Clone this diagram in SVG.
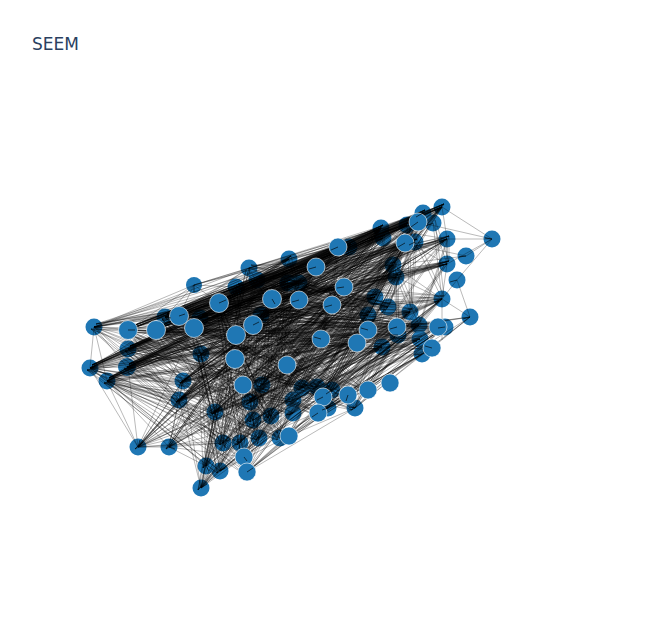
<svg xmlns="http://www.w3.org/2000/svg" width="650" height="625" viewBox="0 0 650 625">
<style>
text{font-family:"DejaVu Sans","Noto Sans",sans-serif;font-size:17px;fill:#2a3f5f}
circle{fill:#1f77b4}
.t circle{stroke:#fff;stroke-width:.6}
#edges path{fill:none;stroke:#000;stroke-opacity:.5;stroke-width:.55}
#ticks{fill:none;stroke:#000;stroke-opacity:.75;stroke-width:.85}
</style>
<rect width="650" height="625" fill="#fff"/>
<text x="32" y="50">SEEM</text>
<g id="nodes-under">
<g id="n1"><circle cx="94" cy="327" r="8.5"/></g>
<g id="n2"><circle cx="90" cy="368" r="8.5"/></g>
<g id="n3"><circle cx="107" cy="381" r="8.5"/></g>
<g id="n4"><circle cx="128" cy="349" r="8.5"/></g>
<g id="n5"><circle cx="127" cy="367" r="9"/></g>
<g id="n6"><circle cx="165" cy="317" r="8.5"/></g>
<g id="n7"><circle cx="200" cy="318" r="8.5"/></g>
<g id="n8"><circle cx="194" cy="285" r="8"/></g>
<g id="n9"><circle cx="236" cy="287" r="8.5"/></g>
<g id="n10"><circle cx="249" cy="268" r="8.5"/></g>
<g id="n11"><circle cx="257" cy="280" r="8.5"/></g>
<g id="n12"><circle cx="261" cy="315" r="8.5"/></g>
<g id="n13"><circle cx="201" cy="354" r="8.5"/></g>
<g id="n14"><circle cx="183" cy="381" r="8.5"/></g>
<g id="n15"><circle cx="179" cy="400" r="8.5"/></g>
<g id="n16"><circle cx="138" cy="447" r="8.5"/></g>
<g id="n17"><circle cx="169" cy="447" r="8.5"/></g>
<g id="n18"><circle cx="215" cy="412" r="8.5"/></g>
<g id="n19"><circle cx="223" cy="443" r="8.5"/></g>
<g id="n20"><circle cx="240" cy="443" r="8.5"/></g>
<g id="n21"><circle cx="253" cy="420" r="8.5"/></g>
<g id="n22"><circle cx="271" cy="416" r="8.5"/></g>
<g id="n23"><circle cx="259" cy="438" r="8.5"/></g>
<g id="n24"><circle cx="280" cy="438" r="8.5"/></g>
<g id="n25"><circle cx="206" cy="466" r="8.5"/></g>
<g id="n26"><circle cx="220" cy="471" r="8.5"/></g>
<g id="n27"><circle cx="244" cy="457" r="8.5"/></g>
<g id="n28"><circle cx="201" cy="488" r="8.5"/></g>
<g id="n29"><circle cx="250" cy="402" r="8.5"/></g>
<g id="n30"><circle cx="262" cy="385" r="8.5"/></g>
<g id="n31"><circle cx="442" cy="207" r="8.5"/></g>
<g id="n32"><circle cx="423" cy="213" r="8.5"/></g>
<g id="n33"><circle cx="433" cy="223" r="8.5"/></g>
<g id="n34"><circle cx="407" cy="225" r="8.5"/></g>
<g id="n35"><circle cx="381" cy="228" r="8.5"/></g>
<g id="n36"><circle cx="383" cy="238" r="8.5"/></g>
<g id="n37"><circle cx="415" cy="242" r="8.5"/></g>
<g id="n38"><circle cx="447" cy="239" r="8.5"/></g>
<g id="n39"><circle cx="492" cy="239" r="8.5"/></g>
<g id="n40"><circle cx="466" cy="256" r="8.5"/></g>
<g id="n41"><circle cx="447" cy="264" r="8.5"/></g>
<g id="n42"><circle cx="457" cy="280" r="8.5"/></g>
<g id="n43"><circle cx="393" cy="265" r="8.5"/></g>
<g id="n44"><circle cx="396" cy="277" r="8.5"/></g>
<g id="n45"><circle cx="349" cy="247" r="8.5"/></g>
<g id="n46"><circle cx="289" cy="259" r="8.5"/></g>
<g id="n47"><circle cx="288" cy="283" r="8.5"/></g>
<g id="n48"><circle cx="299" cy="283" r="8.5"/></g>
<g id="n49"><circle cx="375" cy="297" r="8.5"/></g>
<g id="n50"><circle cx="388" cy="307" r="8.5"/></g>
<g id="n51"><circle cx="442" cy="299" r="8.5"/></g>
<g id="n52"><circle cx="410" cy="312" r="8.5"/></g>
<g id="n53"><circle cx="368" cy="315" r="8.5"/></g>
<g id="n54"><circle cx="470" cy="317" r="8.5"/></g>
<g id="n55"><circle cx="398" cy="335" r="8.5"/></g>
<g id="n56"><circle cx="419" cy="325" r="8.5"/></g>
<g id="n57"><circle cx="445" cy="327" r="8.5"/></g>
<g id="n58"><circle cx="382" cy="347" r="8.5"/></g>
<g id="n59"><circle cx="420" cy="339" r="8.5"/></g>
<g id="n60"><circle cx="422" cy="354" r="8.5"/></g>
<g id="n61"><circle cx="355" cy="408" r="8.5"/></g>
<g id="n62"><circle cx="332" cy="390" r="8.5"/></g>
<g id="n63"><circle cx="317" cy="387" r="8.5"/></g>
<g id="n64"><circle cx="302" cy="388" r="8.5"/></g>
<g id="n65"><circle cx="328" cy="408" r="8.5"/></g>
<g id="n66"><circle cx="293" cy="413" r="8.5"/></g>
<g id="n67"><circle cx="293" cy="400" r="8.5"/></g>
</g>
<g id="edges">
<path d="M442 207L492 239M447 239L492 239M418 222L492 239M466 256L492 239M447 264L492 239M457 280L492 239M457 280L470 317M442 299L470 317M442 299L457 280M447 264L442 299M442 207L447 239M447 239L447 264M419 325L470 317M432 348L470 317M422 354L470 317M397 327L470 317M368 330L470 317M442 299L442 340M396 277L410 312M393 265L442 299M393 265L466 256M381 228L447 239M405 243L466 256M316 267L447 239M344 287L447 264M381 228L447 264M396 277L442 299M355 408L470 317M348 395L470 317M368 390L432 348M368 390L422 354M318 413L432 348M355 408L422 354M355 408L382 347"/>
<path d="M94 327L90 368M94 327L127 367M94 327L107 381M94 327L128 330M94 327L165 317M94 327L179 316M94 327L201 354M94 327L194 285M94 327L128 349M90 368L107 381M90 368L128 349M90 368L127 367M90 368L138 447M90 368L183 381M90 368L215 412M90 368L179 400M107 381L138 447M107 381L183 381M107 381L215 412M107 381L223 443M107 381L240 443M107 381L179 400M107 381L169 447M107 381L206 466M138 447L169 447M138 447L223 443M138 447L259 438M138 447L179 400M138 447L183 381M138 447L215 412M138 447L236 335M138 447L243 385M138 447L201 354M138 447L128 367M138 447L194 328M138 447L271 416M138 447L253 325M138 447L287 365M138 447L302 388M169 447L206 466M169 447L244 457M169 447L179 400M169 447L183 381M169 447L215 412M169 447L223 443M169 447L235 359M169 447L262 385M169 447L293 413M201 488L206 466M201 488L220 471M201 488L244 457M201 488L223 443M201 488L215 412M201 488L179 400M201 488L240 443M201 488L183 381M201 488L259 438M201 488L253 420M247 472L289 436M247 472L355 408M247 472L318 413M247 472L293 413M247 472L328 408M220 471L293 413M220 471L318 413M220 471L259 438M220 471L289 436M289 436L355 408M289 436L318 413M289 436L348 395M259 438L368 390"/>
<path d="M194 285L249 268M194 285L289 259M194 285L165 317M194 285L179 316M194 285L219 303M194 285L128 330M194 285L236 287M249 268L381 228M289 259L423 213M249 268L442 207M338 247L442 207M165 317L381 228M179 316L418 222M194 285L338 247M194 285L381 228M289 259L381 228M289 259L338 247M249 268L338 247M236 287L423 213M338 247L407 225M219 303L442 207M236 287L381 228M249 268L407 225M128 330L289 259M156 330L249 268M94 327L289 259M94 327L249 268M94 327L219 303M90 368L219 303M90 368L249 268"/>
<g id="band-a">
<path d="M128 330 442 207 156 330 423 213 179 316 418 222 194 328 407 225 219 303 381 228 165 317 383 238 200 318 405 243 128 349 415 242 127 367 447 239 90 368 447 264 107 381 393 265 94 327 396 277 128 330 338 247 156 330 349 247 179 316 316 267 194 328 289 259 219 303 288 283 165 317 299 283 200 318 344 287 128 349 375 297 127 367 442 207 90 368 423 213 107 381 418 222"/>
<path d="M156 330 442 207 128 330 418 222 165 317 423 213 194 328 381 228 179 316 407 225 219 303 405 243 200 318 415 242 127 367 383 238 128 349 393 265 107 381 447 239 90 368 396 277 94 327 447 264 156 330 338 247 128 330 316 267 165 317 349 247 194 328 299 283 179 316 288 283 219 303 289 259 200 318 375 297 127 367 344 287 128 349 407 225 107 381 381 228 90 368 405 243"/>
<path d="M179 316 442 207 165 317 418 222 128 330 407 225 156 330 381 228 219 303 423 213 194 328 415 242 127 367 405 243 200 318 447 239 128 349 383 238 90 368 393 265 107 381 338 247 128 330 396 277 156 330 447 264 165 317 344 287 179 316 349 247 219 303 316 267 194 328 375 297 127 367 299 283 128 349 288 283 107 381 289 259 90 368 381 228"/>
<path d="M236 335 442 207 235 359 418 222 243 385 381 228 253 325 423 213 272 299 407 225 261 315 405 243 236 287 447 239 257 280 393 265 249 268 396 277 201 354 338 247 236 335 316 267 235 359 344 287 243 385 375 297 253 325 447 264 261 315 349 247 272 299 383 238 201 354 415 242 257 280 442 299 236 287 410 312 235 359 368 315 236 335 397 327 243 385 419 325"/>
<path d="M289 259 299 300 316 267 332 305 338 247 321 339 349 247 299 283 381 228 344 287 383 238 375 297 405 243 368 315 418 222 388 307 423 213 393 265 442 207 396 277 407 225 410 312 415 242 442 299 433 223 447 264 447 239 419 325 393 265 397 327 396 277 368 330 344 287 357 343 316 267 368 315 299 283 388 307 288 283 410 312 272 299 438 327 253 325 445 327 236 335 420 339 235 359 432 348 243 385 382 347 287 365 398 335"/>
<path d="M272 299 344 287 299 300 368 330 261 315 397 327 236 287 357 343 257 280 368 315 249 268 388 307 219 303 419 325 200 318 442 299 194 328 438 327 179 316 375 297 156 330 332 305 128 330 321 339 165 317 410 312 127 367 447 264 128 349 442 207 90 368 381 228 107 381 405 243 94 327 338 247 128 330 289 259 156 330 316 267 179 316 299 283 194 328 288 283 200 318 257 280 219 303 272 299 236 287"/>
</g>
<g id="band-b">
<path d="M128 330 368 330 156 330 397 327 179 316 410 312 194 328 419 325 219 303 438 327 165 317 357 343 128 349 368 315 127 367 388 307 90 368 375 297 107 381 398 335 94 327 382 347 128 330 321 339 156 330 442 299 179 316 432 348 194 328 420 339 219 303 344 287 165 317 332 305 128 349 445 327 127 367 368 330 90 368 397 327 107 381 357 343"/>
<path d="M138 447 381 228 169 447 405 243 201 488 338 247 206 466 316 267 220 471 393 265 244 457 344 287 247 472 396 277 223 443 418 222 240 443 442 207 259 438 423 213 289 436 407 225 215 412 447 239 179 400 349 247 183 381 289 259 253 420 299 283 271 416 288 283 280 438 332 305 138 447 272 299 169 447 236 287 201 488 249 268 206 466 257 280 220 471 272 299 244 457 219 303 247 472 288 283"/>
<path d="M138 447 357 343 169 447 368 330 201 488 321 339 206 466 397 327 220 471 419 325 244 457 442 299 247 472 438 327 223 443 368 315 240 443 388 307 259 438 410 312 289 436 432 348 215 412 420 339 179 400 375 297 183 381 382 347 253 420 398 335 271 416 344 287 280 438 445 327 293 413 442 299 318 413 419 325 328 408 410 312 302 388 375 297 323 397 388 307"/>
<path d="M215 412 236 335 223 443 253 325 240 443 261 315 253 420 236 287 259 438 272 299 271 416 219 303 280 438 235 359 289 436 243 385 206 466 201 354 220 471 194 328 244 457 287 365 247 472 236 335 183 381 253 325 179 400 235 359 138 447 261 315 169 447 253 325 201 488 287 365 206 466 236 335 223 443 272 299 215 412 299 300 240 443 321 339 259 438 332 305 253 420 316 267 271 416 344 287"/>
<path d="M293 413 128 330 318 413 156 330 355 408 179 316 348 395 194 328 368 390 219 303 323 397 165 317 302 388 200 318 332 390 128 349 317 387 127 367 293 400 90 368 328 408 107 381 293 413 94 327 318 413 236 335 323 397 253 325 302 388 235 359 332 390 261 315 317 387 272 299 293 400 236 287 355 408 243 385 348 395 257 280 368 390 287 365 328 408 249 268"/>
<path d="M293 413 381 228 318 413 405 243 323 397 393 265 302 388 442 207 332 390 418 222 317 387 423 213 293 400 447 239 328 408 396 277 355 408 447 264 348 395 442 299 368 390 410 312 293 413 368 330 318 413 397 327 323 397 357 343 302 388 419 325 332 390 438 327 317 387 420 339 293 400 432 348 328 408 445 327 355 408 398 335 348 395 419 325 368 390 445 327 318 413 422 354"/>
<path d="M236 335 128 330 243 385 156 330 235 359 179 316 287 365 194 328 262 385 219 303 250 402 165 317 253 420 128 349 271 416 127 367 280 438 90 368 259 438 107 381 240 443 94 327 223 443 201 354 215 412 183 381 179 400 128 330 183 381 156 330 201 354 165 317 215 412 194 328 223 443 128 349 244 457 127 367 247 472 90 368 220 471 107 381 289 436 128 330 259 438 156 330 253 420 179 316 271 416 219 303"/>
<path d="M183 381 381 228 179 400 405 243 215 412 442 207 183 381 418 222 179 400 338 247 215 412 393 265 183 381 447 239 179 400 344 287 201 354 423 213 183 381 299 300 179 400 332 305 215 412 368 330 183 381 397 327 179 400 321 339 215 412 357 343 201 354 419 325 183 381 442 299 179 400 382 347 215 412 438 327 201 354 410 312 250 402 381 228 262 385 405 243 250 402 393 265 262 385 418 222 250 402 344 287 262 385 368 330 250 402 397 327 262 385 442 299 287 365 381 228 287 365 442 207 287 365 393 265"/>
</g>
<use href="#band-a" transform="translate(2,-3)"/>
<use href="#band-b" transform="translate(-3,2)"/>
</g>
<g id="nodes-top" class="t">
<g id="n68"><circle cx="128" cy="330" r="9.5"/></g>
<g id="n69"><circle cx="156" cy="330" r="9.5"/></g>
<g id="n70"><circle cx="179" cy="316" r="9.5"/></g>
<g id="n71"><circle cx="194" cy="328" r="9.5"/></g>
<g id="n72"><circle cx="219" cy="303" r="9.5"/></g>
<g id="n73"><circle cx="272" cy="299" r="9.5"/></g>
<g id="n74"><circle cx="253" cy="325" r="9.5"/></g>
<g id="n75"><circle cx="236" cy="335" r="9.5"/></g>
<g id="n76"><circle cx="235" cy="359" r="9.5"/></g>
<g id="n77"><circle cx="243" cy="385" r="9"/></g>
<g id="n78"><circle cx="287" cy="365" r="9"/></g>
<g id="n79"><circle cx="244" cy="457" r="9"/></g>
<g id="n80"><circle cx="247" cy="472" r="9"/></g>
<g id="n81"><circle cx="289" cy="436" r="9"/></g>
<g id="n82"><circle cx="338" cy="247" r="9"/></g>
<g id="n83"><circle cx="316" cy="267" r="9"/></g>
<g id="n84"><circle cx="344" cy="287" r="9"/></g>
<g id="n85"><circle cx="299" cy="300" r="9"/></g>
<g id="n86"><circle cx="332" cy="305" r="9"/></g>
<g id="n87"><circle cx="321" cy="339" r="9"/></g>
<g id="n88"><circle cx="368" cy="330" r="9"/></g>
<g id="n89"><circle cx="357" cy="343" r="9"/></g>
<g id="n90"><circle cx="397" cy="327" r="9"/></g>
<g id="n91"><circle cx="438" cy="327" r="9"/></g>
<g id="n92"><circle cx="432" cy="348" r="9"/></g>
<g id="n93"><circle cx="390" cy="383" r="9"/></g>
<g id="n94"><circle cx="368" cy="390" r="9"/></g>
<g id="n95"><circle cx="348" cy="395" r="9"/></g>
<g id="n96"><circle cx="323" cy="397" r="9"/></g>
<g id="n97"><circle cx="318" cy="413" r="9"/></g>
<g id="n98"><circle cx="405" cy="243" r="9"/></g>
<g id="n99"><circle cx="418" cy="222" r="9"/></g>
</g>
<path id="ticks" d="M442 207l-7 4M423 213l-7 4M433 223l-7 3M418 222l-7 5M407 225l-7 3M381 228l-7 4M383 238l-7 2M405 243l-7 4M415 242l-6 3M447 239l-7 3M492 239l-7-1M466 256l-7 1M447 264l-7 1M457 280l-7 2M393 265l-7 1M396 277l-7 1M338 247l-7 3M289 259l-7 2M316 267l-7 2M288 283l-7 1M299 283l-7 1M344 287l-7 1M375 297l-7 2M388 307l-7 0M442 299l-7 3M410 312l-7 1M368 315l-7 1M470 317l-7 2M368 330l-7-2M419 325l-7 1M445 327l-7 1M397 327l-7 2M398 335l-7 0M382 347l-7-1M420 339l-7 2M432 348l-7-2M422 354l-7 1M321 339l-7-2M299 300l-7 2M332 305l-7 2M355 408l-6-1M332 390l-6 4M323 397l-6 3M318 413l-6 4M293 413l-7 2M293 400l-7 3M328 408l-6 2M348 395l-2 6M94 327l7 0M90 368l7-1M107 381l7-3M128 330l7 0M179 316l6-2M165 317l6 1M200 318l5-1M128 349l6 0M127 367l7 1M183 381l-2 6M179 400l1 5M201 354l5 1M215 412l1 6M138 447l2-7M138 447l5-5M169 447l6 2M223 443l3 5M240 443l-1 6M259 438l-2 6M253 420l1 6M271 416l-2 6M206 466l3 5M220 471l5-3M244 457l3 4M247 472l6-4M201 488l6-4M219 303l7-3M194 285l0 7M236 287l0 6M272 299l3 5M249 268l1 6M257 280l6-2M261 315l6-4M253 325l6-3"/>
</svg>
